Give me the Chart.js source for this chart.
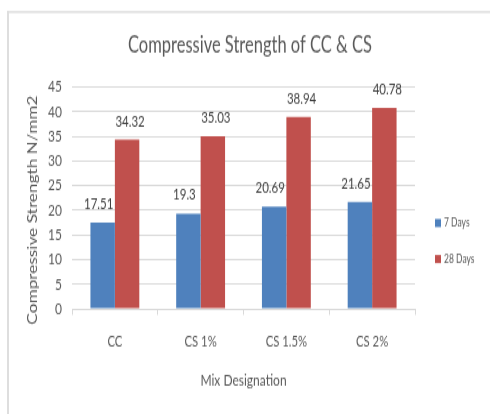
<!DOCTYPE html>
<html>
<head>
<meta charset="utf-8">
<title>Compressive Strength of CC &amp; CS</title>
<script src="https://cdn.jsdelivr.net/npm/chart.js@4.4.1/dist/chart.umd.min.js"></script>
<style>
  html, body { margin: 0; padding: 0; background: #ffffff; overflow: hidden; }
  /* the chart is laid out on a shorter canvas and stretched to the full height */
  #wrap {
    position: absolute; left: 0; top: 0; width: 490px; height: 307px;
    transform: scaleY(1.3485); transform-origin: 0 0;
  }
</style>
</head>
<body>
<div id="wrap"><canvas id="chart"></canvas></div>
<script>
// Mix designations and compressive strengths (N/mm2)
const categories = ['CC', 'CS 1%', 'CS 1.5%', 'CS 2%'];
const seriesNames = ['7 Days', '28 Days'];
const days7 = [17.51, 19.3, 20.69, 21.65];
const days28 = [34.32, 35.03, 38.94, 40.78];
const yTicks = [0, 5, 10, 15, 20, 25, 30, 35, 40, 45];
const yAxisTitle = 'Compressive Strength N/mm2';

const FONT = "Lato, 'Open Sans', sans-serif";
const TEXT = '#595959';
const GRID = '#d9d9d9';
const COLORS = ['#4f81bd', '#c0504d'];

// light frame along the top and left edges of the chart
const frame = {
  id: 'frame',
  beforeDraw(chart) {
    const ctx = chart.ctx;
    ctx.save();
    ctx.fillStyle = '#dedede';
    ctx.fillRect(7, 8.2, chart.width - 7, 1.5);
    ctx.fillRect(7, 8.2, 2, chart.height - 8.2);
    ctx.restore();
  }
};

// value labels above each bar
const valueLabels = {
  id: 'valueLabels',
  afterDatasetsDraw(chart) {
    const ctx = chart.ctx;
    ctx.save();
    ctx.font = '11.5px ' + FONT;
    ctx.fillStyle = '#404040';
    ctx.textAlign = 'center';
    ctx.textBaseline = 'middle';
    const shift = [-4, 3];
    chart.data.datasets.forEach((ds, i) => {
      chart.getDatasetMeta(i).data.forEach((bar, j) => {
        ctx.fillText(String(ds.data[j]), bar.x + shift[i], bar.y - 13.7);
      });
    });
    ctx.restore();
  }
};

// rotated value-axis title, sitting a little below the middle of the plot
const valueAxisTitle = {
  id: 'valueAxisTitle',
  afterDraw(chart) {
    const ctx = chart.ctx;
    const area = chart.chartArea;
    ctx.save();
    ctx.font = '12.8px ' + FONT;
    ctx.fillStyle = TEXT;
    ctx.textAlign = 'center';
    ctx.textBaseline = 'middle';
    ctx.translate(33, (area.top + area.bottom) / 2 + 9);
    ctx.rotate(-Math.PI / 2);
    ctx.fillText(yAxisTitle, 0, 0);
    ctx.restore();
  }
};

// legend to the right of the plot
const sideLegend = {
  id: 'sideLegend',
  afterDraw(chart) {
    const ctx = chart.ctx;
    const area = chart.chartArea;
    ctx.save();
    ctx.font = '8.5px ' + FONT;
    ctx.textBaseline = 'middle';
    ctx.textAlign = 'left';
    chart.data.datasets.forEach((ds, i) => {
      const y = area.top + 100.9 + i * 26.7;
      const x = area.right + 20;
      ctx.fillStyle = ds.backgroundColor;
      ctx.fillRect(x, y - 3, 6, 6);
      ctx.fillStyle = TEXT;
      ctx.fillText(ds.label, x + 9, y);
    });
    ctx.restore();
  }
};

// keep the chart title centred across the full canvas width
const titleSpan = {
  id: 'titleSpan',
  afterLayout(chart) {
    const t = chart.titleBlock;
    if (t) { t.left = 10; t.right = chart.width; t.width = chart.width - 10; }
  }
};

new Chart(document.getElementById('chart'), {
  type: 'bar',
  data: {
    labels: categories,
    datasets: [
      { label: seriesNames[0], data: days7, backgroundColor: COLORS[0] },
      { label: seriesNames[1], data: days28, backgroundColor: COLORS[1] }
    ]
  },
  options: {
    responsive: true,
    maintainAspectRatio: false,
    animation: false,
    devicePixelRatio: 1,
    categoryPercentage: 0.57,
    barPercentage: 1.0,
    layout: { padding: { left: 10, right: 75, top: 0, bottom: 0 } },
    plugins: {
      legend: { display: false },
      tooltip: { enabled: false },
      title: {
        display: true,
        text: 'Compressive Strength of CC & CS',
        color: TEXT,
        font: { family: FONT, size: 16.5, weight: 'normal' },
        padding: { top: 24, bottom: 20.7 }
      }
    },
    scales: {
      x: {
        afterFit(scale) { scale.height = 78; },
        grid: {
          offset: true,
          drawOnChartArea: false,
          drawTicks: true,
          tickLength: 4.5,
          color: GRID
        },
        border: { display: true, color: GRID, width: 1 },
        ticks: {
          color: TEXT,
          padding: 12.7,
          font: { family: FONT, size: 11.3 }
        },
        title: {
          display: true,
          text: 'Mix Designation',
          color: TEXT,
          font: { family: FONT, size: 12 },
          padding: { top: 0, bottom: 18 }
        }
      },
      y: {
        min: 0,
        max: 45,
        afterFit(scale) { scale.width = 62; },
        afterBuildTicks(scale) { scale.ticks = yTicks.map(v => ({ value: v })); },
        grid: { color: GRID, drawTicks: false },
        border: { display: false },
        ticks: {
          color: TEXT,
          padding: 10,
          font: { family: FONT, size: 12 }
        },
        title: { display: false, text: yAxisTitle }
      }
    }
  },
  plugins: [frame, titleSpan, valueLabels, valueAxisTitle, sideLegend]
});
</script>
</body>
</html>
